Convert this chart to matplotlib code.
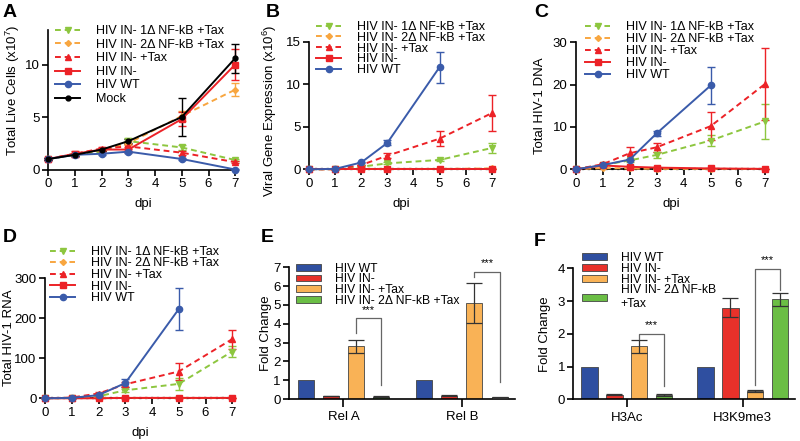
import numpy as np
import matplotlib.pyplot as plt

plt.rcParams['font.family'] = ['Liberation Sans', 'DejaVu Sans']
plt.rcParams['mathtext.fontset'] = 'custom'
plt.rcParams['mathtext.rm'] = 'Liberation Sans'
plt.rcParams['mathtext.it'] = 'Liberation Sans:italic'

W, H = 800, 441

DPI_ALL = [0, 1, 2, 3, 5, 7]
DPI_WT = [0, 1, 2, 3, 5]

# A: total live cells (x10^7)
a_1d = [1.0, 1.4, 1.7, 2.7, 2.1, 0.9]
a_1d_err = [0.05, 0.1, 0.1, 0.3, 0.25, 0.1]
a_2d = [1.0, 1.5, 1.9, 2.5, 5.1, 7.6]
a_2d_err = [0.05, 0.1, 0.1, 0.2, 0.5, 0.6]
a_tax = [1.0, 1.5, 2.0, 2.2, 1.6, 0.7]
a_tax_err = [0.05, 0.1, 0.1, 0.2, 0.2, 0.1]
a_neg = [1.0, 1.5, 1.9, 1.9, 4.8, 10.0]
a_neg_err = [0.05, 0.3, 0.1, 0.2, 0.7, 1.5]
a_wt = [1.0, 1.4, 1.5, 1.7, 1.0, 0.0]
a_wt_err = [0.05, 0.1, 0.1, 0.1, 0.1, 0.05]
a_mock = [1.0, 1.4, 1.9, 2.7, 5.0, 10.6]
a_mock_err = [0.05, 0.1, 0.1, 0.2, 1.8, 1.4]

# B: viral gene expression (x10^6)
b_1d = [0.0, 0.02, 0.3, 0.7, 1.1, 2.5]
b_1d_err = [0.0, 0.0, 0.05, 0.1, 0.15, 0.6]
b_2d = [0.0, 0.02, 0.05, 0.05, 0.05, 0.1]
b_2d_err = [0.0, 0.0, 0.0, 0.0, 0.0, 0.05]
b_tax = [0.0, 0.0, 0.5, 1.6, 3.6, 6.6]
b_tax_err = [0.0, 0.0, 0.05, 0.3, 0.9, 2.1]
b_neg = [0.0, 0.0, 0.0, 0.0, 0.0, 0.0]
b_neg_err = [0.0, 0.0, 0.0, 0.0, 0.0, 0.0]
b_wt = [0.0, 0.05, 0.8, 3.1, 12.0]
b_wt_err = [0.0, 0.0, 0.1, 0.3, 1.8]
b_mock = [0.0, 0.0, 0.0, 0.0, 0.0, 0.0]

# C: total HIV-1 DNA
c_1d = [0.0, 1.0, 2.1, 3.4, 6.8, 11.3]
c_1d_err = [0.0, 0.2, 0.3, 0.7, 1.2, 4.1]
c_2d = [0.0, 0.3, 0.2, 0.1, 0.1, 0.1]
c_2d_err = [0.0, 0.0, 0.0, 0.0, 0.0, 0.0]
c_tax = [0.0, 1.2, 3.8, 5.2, 10.2, 20.1]
c_tax_err = [0.0, 0.2, 1.5, 1.0, 3.3, 8.5]
c_neg = [0.0, 0.9, 0.6, 0.4, 0.2, 0.1]
c_neg_err = [0.0, 0.1, 0.1, 0.05, 0.05, 0.05]
c_wt = [0.0, 1.0, 2.3, 8.5, 19.8]
c_wt_err = [0.0, 0.1, 0.2, 0.6, 4.4]
c_mock = [0.0, 0.0, 0.0, 0.0, 0.0, 0.0]

# D: total HIV-1 RNA
d_1d = [0.0, 1.0, 5.0, 20.0, 36.0, 117.0]
d_1d_err = [0.0, 0.5, 2.0, 4.0, 14.0, 13.0]
d_2d = [0.0, 0.5, 1.0, 1.0, 1.0, 1.0]
d_2d_err = [0.0, 0.0, 0.0, 0.0, 0.0, 0.0]
d_tax = [0.0, 2.0, 12.0, 35.0, 67.0, 148.0]
d_tax_err = [0.0, 1.0, 4.0, 7.0, 21.0, 24.0]
d_neg = [0.0, 0.0, 0.0, 1.0, 1.0, 1.0]
d_neg_err = [0.0, 0.0, 0.0, 0.0, 0.0, 0.0]
d_wt = [0.0, 1.0, 8.0, 38.0, 223.0]
d_wt_err = [0.0, 0.5, 2.0, 10.0, 52.0]
d_mock = [0.0, 0.0, 0.0, 0.0, 0.0, 0.0]

# E: Rel A / Rel B fold change
e_groups = ['Rel A', 'Rel B']
e_wt = [1.0, 1.0]
e_neg = [0.16, 0.18]
e_neg_err = [0.02, 0.03]
e_tax = [2.8, 5.1]
e_tax_err = [0.35, 1.05]
e_2d = [0.12, 0.10]
e_2d_err = [0.02, 0.03]
# bracket: top, left-leg bottom, right-leg bottom, star height
e_brk = [(4.3, 3.5, 0.75, 4.45), (6.77, 6.5, 0.9, 6.95)]

# F: histone marks fold change
f_groups = ['H3Ac', 'H3K9me3']
f_wt = [1.0, 1.0]
f_neg = [0.14, 2.8]
f_neg_err = [0.02, 0.3]
f_tax = [1.62, 0.25]
f_tax_err = [0.2, 0.04]
f_2d = [0.13, 3.06]
f_2d_err = [0.03, 0.2]
f_brk = [(2.0, 1.85, 0.4, 2.12), (3.98, 0.45, 3.35, 4.1)]

GREEN = '#8DC63F'
ORANGE = '#F8A640'
RED = '#EC2227'
BLUE = '#3A5BAA'
BAR_COL = ['#2F4FA0', '#E8312A', '#F9B256', '#6BBE45']

STY = {
    '1d': dict(color=GREEN, ls='--', marker='v', ms=4.5, label='HIV IN- 1Δ NF-kB +Tax'),
    '2d': dict(color=ORANGE, ls='--', marker='D', ms=3, label='HIV IN- 2Δ NF-kB +Tax'),
    'tax': dict(color=RED, ls='--', marker='^', ms=4.5, label='HIV IN- +Tax'),
    'neg': dict(color=RED, ls='-', marker='s', ms=4.5, label='HIV IN-'),
    'wt': dict(color=BLUE, ls='-', marker='o', ms=4.5, label='HIV WT'),
    'mock': dict(color='black', ls='-', marker='o', ms=3.5, label='Mock'),
}

fig = plt.figure(figsize=(W / 100, H / 100), dpi=100)


def px_axes(left, bottom, width, height):
    return fig.add_axes([left / W, 1 - bottom / H, width / W, height / H])


def style_axes(ax):
    for s in ['top', 'right']:
        ax.spines[s].set_visible(False)
    for s in ['left', 'bottom']:
        ax.spines[s].set_linewidth(1.2)
    ax.tick_params(direction='out', length=4, width=1.2, labelsize=9.5, pad=2)


def place_ylabel(ax, text, xy):
    ax.set_ylabel(text, fontsize=9.5, va='center')
    ax.yaxis.set_label_coords(xy[0] / W, 1 - xy[1] / H, transform=fig.transFigure)


def line_panel(ax, series, ylim, yticks, ylabel, ylab_xy, leg_xy, spacing, mock=None):
    handles = []
    if mock is not None:
        ax.plot(DPI_ALL, mock, color='black', ls=':', lw=1.6, clip_on=False, zorder=2)
    for key, x, y, e in series:
        st = STY[key]
        ax.errorbar(x, y, yerr=e, fmt='none', ecolor=st['color'], elinewidth=1,
                    capsize=3, capthick=1, clip_on=False, zorder=3)
        h, = ax.plot(x, y, color=st['color'], ls=st['ls'], lw=1.4, marker=st['marker'],
                     ms=st['ms'], label=st['label'], clip_on=False, zorder=4)
        if st['ls'] == '--':
            h.set_dashes((3, 2))
        handles.append(h)
    ax.set_xlim(0, 7.1)
    ax.set_ylim(*ylim)
    ax.set_xticks(range(8))
    ax.set_yticks(yticks)
    ax.set_xlabel('dpi', fontsize=9.5, labelpad=6)
    place_ylabel(ax, ylabel, ylab_xy)
    style_axes(ax)
    ax.legend(handles=handles, loc='upper left',
              bbox_to_anchor=(leg_xy[0] / W, 1 - leg_xy[1] / H),
              bbox_transform=fig.transFigure, frameon=False, fontsize=9,
              borderpad=0, borderaxespad=0, handlelength=2.0, handletextpad=1.3,
              labelspacing=spacing)


def bar_panel(ax, groups, vals, errs, brks, ylim, ylabel, ylab_xy, labels, leg_xy,
              spacing, width, step):
    x0 = np.arange(len(groups))
    for i, (v, e) in enumerate(zip(vals, errs)):
        xs = x0 + (i - 1.5) * step
        ax.bar(xs, v, width=width, color=BAR_COL[i], edgecolor='#444444', lw=0.6,
               label=labels[i], zorder=2)
        if e is not None:
            ax.errorbar(xs, v, yerr=e, fmt='none', ecolor='#333333', elinewidth=0.9,
                        capsize=6, capthick=0.9, zorder=3)
    for g, (top, lb, rb, sy) in enumerate(brks):
        xl = g + 0.5 * step
        xr = g + 1.5 * step
        ax.plot([xl, xl, xr, xr], [lb, top, top, rb], color='#666666', lw=0.9,
                clip_on=False, zorder=4)
        ax.text((xl + xr) / 2, sy, '***', ha='center', va='bottom', fontsize=8,
                clip_on=False)
    ax.set_xlim(-0.46, len(groups) - 1 + 0.45)
    ax.set_ylim(*ylim)
    ax.set_xticks(x0)
    ax.set_xticklabels(groups)
    ax.set_yticks(range(ylim[1] + 1))
    place_ylabel(ax, ylabel, ylab_xy)
    style_axes(ax)
    ax.tick_params(axis='x', length=6, pad=3)
    ax.legend(loc='upper left', bbox_to_anchor=(leg_xy[0] / W, 1 - leg_xy[1] / H),
              bbox_transform=fig.transFigure, frameon=False, fontsize=8.7,
              borderpad=0, borderaxespad=0, handlelength=2.1, handleheight=0.5,
              handletextpad=1.1, labelspacing=spacing)


# ---- A
axA = px_axes(48.3, 169.5, 7.1 * 26.7, 13.3 * 10.5)
line_panel(axA, [('1d', DPI_ALL, a_1d, a_1d_err), ('2d', DPI_ALL, a_2d, a_2d_err),
                 ('tax', DPI_ALL, a_tax, a_tax_err), ('neg', DPI_ALL, a_neg, a_neg_err),
                 ('wt', DPI_ALL, a_wt, a_wt_err), ('mock', DPI_ALL, a_mock, a_mock_err)],
           (0, 13.3), [0, 5, 10], r'Total Live Cells (x10$^{7}$)', (13, 90), (55, 25), 0.13)

# ---- B
axB = px_axes(309, 169.3, 7.1 * 26.1, 127.6)
line_panel(axB, [('1d', DPI_ALL, b_1d, b_1d_err), ('2d', DPI_ALL, b_2d, b_2d_err),
                 ('tax', DPI_ALL, b_tax, b_tax_err), ('neg', DPI_ALL, b_neg, b_neg_err),
                 ('wt', DPI_WT, b_wt, b_wt_err)],
           (0, 15), [0, 5, 10, 15], r'Viral Gene Expression (x10$^{6}$)', (270, 111),
           (316, 21), -0.1, mock=b_mock)

# ---- C
axC = px_axes(575.7, 169.3, 7.1 * 27.0, 127.0)
line_panel(axC, [('1d', DPI_ALL, c_1d, c_1d_err), ('2d', DPI_ALL, c_2d, c_2d_err),
                 ('tax', DPI_ALL, c_tax, c_tax_err), ('neg', DPI_ALL, c_neg, c_neg_err),
                 ('wt', DPI_WT, c_wt, c_wt_err)],
           (0, 30), [0, 10, 20, 30], 'Total HIV-1 DNA', (540, 106), (585, 21), 0.0,
           mock=c_mock)

# ---- D
axD = px_axes(45, 398.3, 7.1 * 26.75, 120.0)
line_panel(axD, [('1d', DPI_ALL, d_1d, d_1d_err), ('2d', DPI_ALL, d_2d, d_2d_err),
                 ('tax', DPI_ALL, d_tax, d_tax_err), ('neg', DPI_ALL, d_neg, d_neg_err),
                 ('wt', DPI_WT, d_wt, d_wt_err)],
           (0, 300), [0, 100, 200, 300], 'Total HIV-1 RNA', (9, 338), (50, 246), -0.04,
           mock=d_mock)

# ---- E
axE = px_axes(289, 399, 226, 131.7)
bar_panel(axE, e_groups, [e_wt, e_neg, e_tax, e_2d], [None, e_neg_err, e_tax_err, e_2d_err],
          e_brk, (0, 7), 'Fold Change', (266, 333),
          ['HIV WT', 'HIV IN-', 'HIV IN- +Tax', 'HIV IN- 2Δ NF-kB +Tax'], (296, 262.5),
          -0.1, 0.136, 0.213)

# ---- F
axF = px_axes(573.3, 399.3, 221.7, 131.0)
bar_panel(axF, f_groups, [f_wt, f_neg, f_tax, f_2d], [None, f_neg_err, f_tax_err, f_2d_err],
          f_brk, (0, 4), 'Fold Change', (545, 334),
          ['HIV WT', 'HIV IN-', 'HIV IN- +Tax', 'HIV IN- 2Δ NF-kB\n+Tax'], (582, 252),
          -0.1, 0.143, 0.214)

for lab, x, y in [('A', 3, 4), ('B', 266, 4), ('C', 534, 4),
                  ('D', 3, 229), ('E', 261, 229), ('F', 534, 233)]:
    fig.text(x / W, 1 - y / H, lab, fontsize=14, fontweight='bold', va='top', ha='left')

fig.savefig('out.png', dpi=100)
